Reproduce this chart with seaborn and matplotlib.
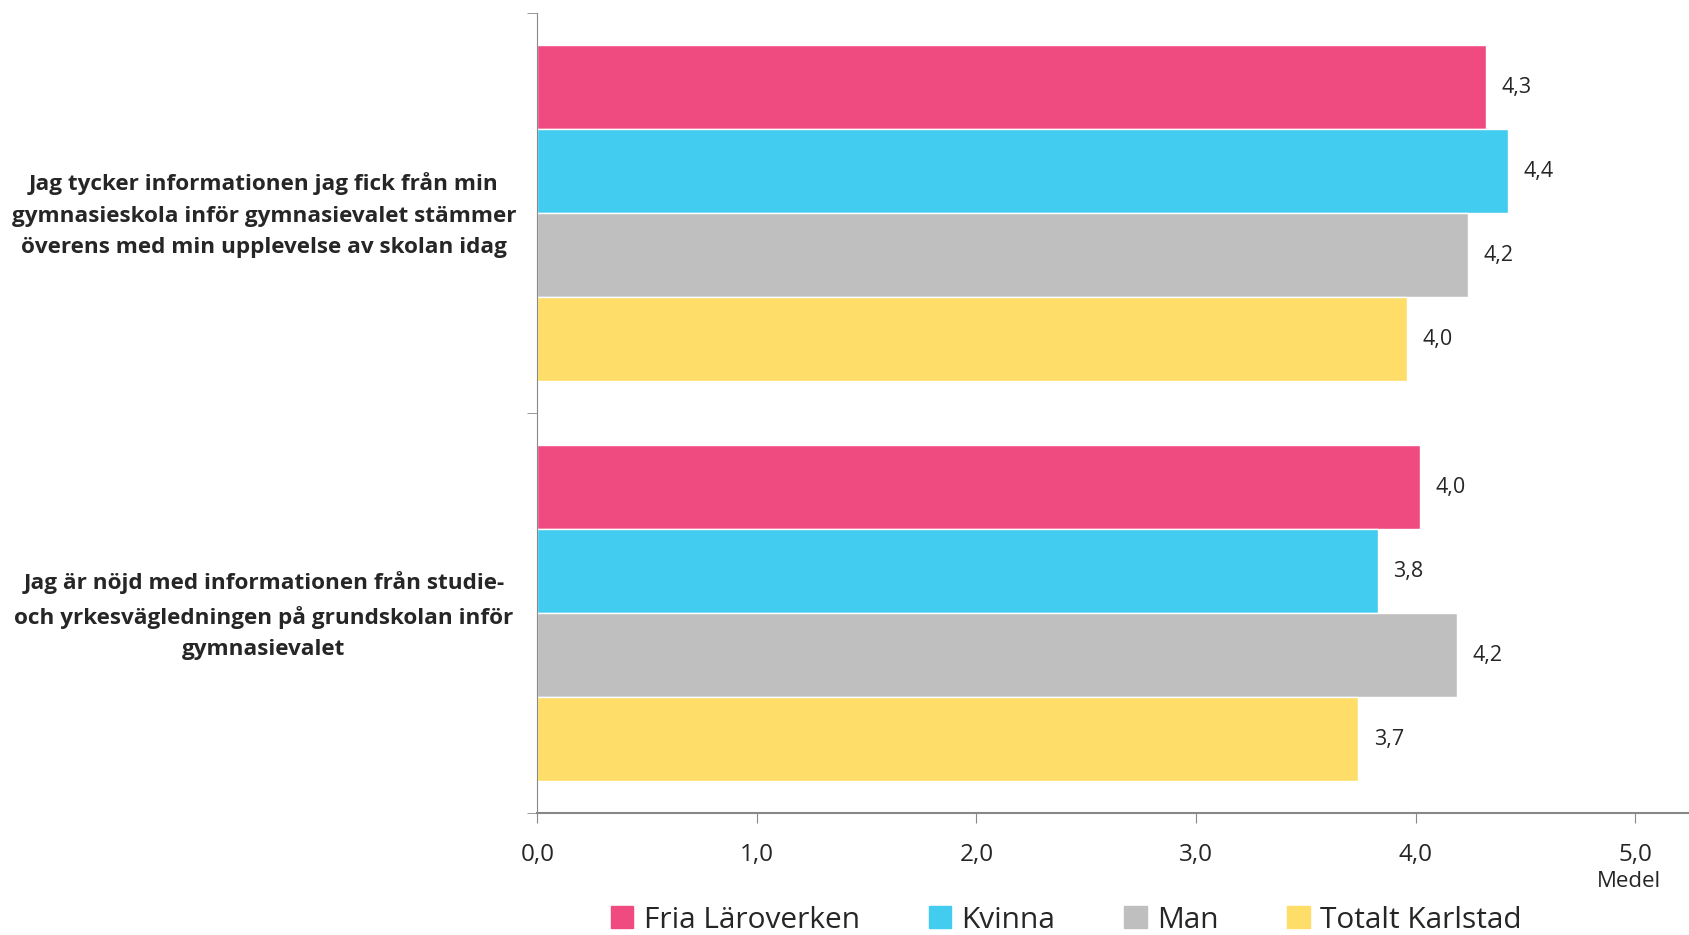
import pandas as pd
import matplotlib.pyplot as plt
import matplotlib.transforms as mtransforms
import seaborn as sns

questions = [
    "Jag tycker informationen jag fick från min\ngymnasieskola inför gymnasievalet stämmer\növerens med min upplevelse av skolan idag",
    "Jag är nöjd med informationen från studie-\noch yrkesvägledningen på grundskolan inför\ngymnasievalet",
]
groups = ["Fria Läroverken", "Kvinna", "Man", "Totalt Karlstad"]
fria = [4.32, 4.02]
kvinna = [4.42, 3.83]
man = [4.24, 4.19]
totalt = [3.96, 3.74]
colors = ["#EF4B81", "#42CCEF", "#BFBFBF", "#FEDE68"]

rows = []
for g, vals in zip(groups, [fria, kvinna, man, totalt]):
    for q, v in zip(questions, vals):
        rows.append({"fraga": q, "grupp": g, "medel": v})
df = pd.DataFrame(rows)

sns.set_style("white")
plt.rcParams["font.family"] = ["Open Sans", "DejaVu Sans"]

fig = plt.figure(figsize=(16.9, 9.35), dpi=100)
ax = fig.add_axes([0.318, 0.13, 0.682, 0.856])

sns.barplot(data=df, y="fraga", x="medel", hue="grupp", order=questions,
            hue_order=groups, palette=colors, orient="h", width=0.84,
            saturation=1, ax=ax, legend=False)

#labels with comma decimals
for cont in ax.containers:
    ax.bar_label(cont, labels=[f"{w:.1f}".replace(".", ",") for w in cont.datavalues],
                 padding=11, fontsize=15.5)

ax.set_xlim(0, 5.25)
ax.set_ylim(1.5, -0.5)
ax.set_xticks([0, 1, 2, 3, 4, 5])
ax.set_xticklabels(["0,0", "1,0", "2,0", "3,0", "4,0", "5,0"], fontsize=17.5)
ax.set_yticks([-0.5, 0.5, 1.5], minor=True)
ax.set_yticks([0, 1])
ax.set_yticklabels(questions, fontsize=16.2, fontweight="bold", ha="center")
for lab in ax.get_yticklabels():
    lab.set_linespacing(1.65)
ax.tick_params(axis="y", which="major", length=0, pad=197)
ax.tick_params(axis="y", which="minor", length=7, color="#888888", left=True)
ax.tick_params(axis="x", length=7, color="#888888", bottom=True, pad=14)
# nudge question labels up a little
shift = mtransforms.ScaledTranslation(0, 4 / 72, fig.dpi_scale_trans)
for lab in ax.get_yticklabels():
    lab.set_transform(lab.get_transform() + shift)
ax.set_xlabel("")
ax.set_ylabel("")
for s in ["top", "right"]:
    ax.spines[s].set_visible(False)
ax.spines["left"].set_color("#888888")
ax.spines["bottom"].set_color("#888888")
ax.spines["bottom"].set_linewidth(1.5)

fig.text(0.964, 0.057, "Medel", fontsize=16, ha="center", va="center")

handles = [plt.Rectangle((0, 0), 1, 1, color=c) for c in colors]
fig.legend(handles, groups, loc="center", bbox_to_anchor=(0.631, 0.016), ncol=4,
           frameon=False, fontsize=21.5, handlelength=0.75, handleheight=0.75,
           columnspacing=2.3, handletextpad=0.35)

fig.savefig("out.png", dpi=100)
